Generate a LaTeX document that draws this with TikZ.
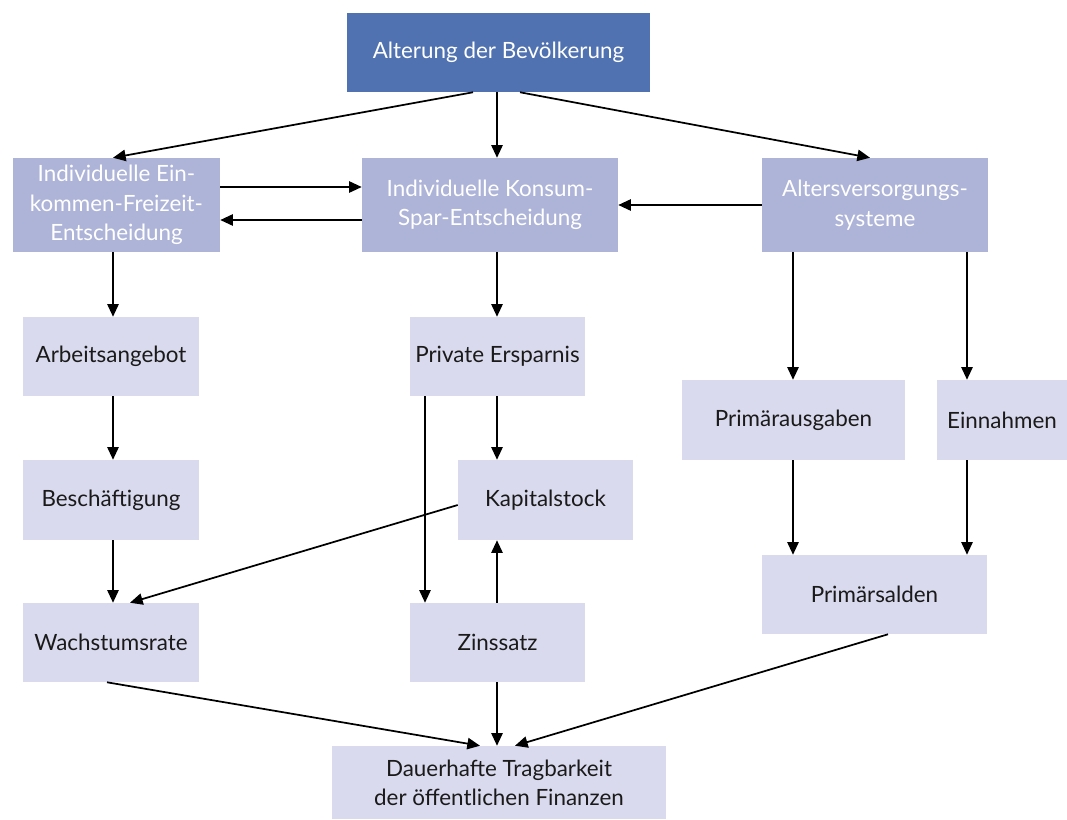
\documentclass[tikz,border=0pt]{standalone}
\usepackage{fontspec}
\setmainfont{Lato}
\usetikzlibrary{arrows.meta,calc}
\definecolor{darkbox}{HTML}{5072B0}
\definecolor{midbox}{HTML}{AEB4D8}
\definecolor{lightbox}{HTML}{D9DAEE}
\definecolor{txt}{HTML}{1A1A1A}
\begin{document}
\begin{tikzpicture}[x=0.75pt,y=-0.75pt,
  box/.style={rectangle, inner sep=0pt, align=center, anchor=center,
    font=\fontsize{16.8}{22}\selectfont},
  topbox/.style={box, fill=darkbox, text=white},
  midnode/.style={box, fill=midbox, text=white},
  lightnode/.style={box, fill=lightbox, text=txt},
  arr/.style={line width=1.3pt, -{Triangle[length=9.5pt,width=8.5pt]}}]
\useasboundingbox (0,0) rectangle (1067,819);
\node[topbox, minimum width=227.25pt, minimum height=59.25pt] (A) at (498.5,52.5) {Alterung der Bevölkerung};
\node[midnode, minimum width=155.25pt, minimum height=70.5pt] (B) at (116.5,205) {Individuelle Ein-\\kommen-Freizeit-\\Entscheidung};
\node[midnode, minimum width=192pt, minimum height=70.5pt] (C) at (490,205) {Individuelle Konsum-\\Spar-Entscheidung};
\node[midnode, minimum width=169.5pt, minimum height=70.5pt] (D) at (875,205) {Altersversorgungs-\\systeme};
\node[lightnode, minimum width=132pt, minimum height=59.25pt] (E) at (111,356.5) {Arbeitsangebot};
\node[lightnode, minimum width=131.25pt, minimum height=59.25pt] (F) at (497.5,356.5) {Private Ersparnis};
\node[lightnode, minimum width=167.25pt, minimum height=60pt] (G) at (793.5,420) {Primärausgaben};
\node[lightnode, minimum width=97.5pt, minimum height=60pt] (H) at (1002,420) {Einnahmen};
\node[lightnode, minimum width=132pt, minimum height=60pt] (I) at (111,500) {Beschäftigung};
\node[lightnode, minimum width=131.25pt, minimum height=60pt] (J) at (545.5,500) {Kapitalstock};
\node[lightnode, minimum width=132pt, minimum height=59.25pt] (K) at (111,642.5) {Wachstumsrate};
\node[lightnode, minimum width=131.25pt, minimum height=59.25pt] (L) at (497.5,642.5) {Zinssatz};
\node[lightnode, minimum width=168.75pt, minimum height=59.25pt] (M) at (874.5,594.5) {Primärsalden};
\node[lightnode, minimum width=250.5pt, minimum height=54.75pt] (N) at (499,782.5) {Dauerhafte Tragbarkeit\\der öffentlichen Finanzen};
% arrows
\draw[arr] ($(A.south)+(-25.5,0)$) -- ($(B.north)+(-3.5,0)$);
\draw[arr] ($(A.south)+(-1.5,0)$) coordinate (t1) -- (t1 |- C.north);
\draw[arr] ($(A.south)+(21.5,0)$) -- ($(D.north)+(-5,0)$);
\draw[arr] ($(B.east)+(0,-18)$) coordinate (t2) -- (t2 -| C.west);
\draw[arr] ($(C.west)+(0,15)$) coordinate (t3) -- (t3 -| B.east);
\draw[arr] (D.west) -- (C.east);
\draw[arr] ($(B.south)+(-3.5,0)$) coordinate (t4) -- (t4 |- E.north);
\draw[arr] ($(C.south)+(7,0)$) coordinate (t5) -- (t5 |- F.north);
\draw[arr] ($(D.south)+(-82,0)$) coordinate (t6) -- (t6 |- G.north);
\draw[arr] ($(D.south)+(92,0)$) coordinate (t7) -- (t7 |- H.north);
\draw[arr] ($(E.south)+(2,0)$) coordinate (t8) -- (t8 |- I.north);
\draw[arr] ($(F.south)+(-0.5,0)$) coordinate (t9) -- (t9 |- J.north);
\draw[arr] ($(F.south)+(-72.5,0)$) coordinate (t10) -- (t10 |- L.north);
\draw[arr] ($(I.south)+(2,0)$) coordinate (t11) -- (t11 |- K.north);
\draw[arr] ($(J.west)+(0,5)$) -- ($(K.north)+(19,0)$);
\draw[arr] ($(L.north)+(-0.5,0)$) coordinate (t12) -- (t12 |- J.south);
\draw[arr] ($(G.south)+(-0.5,0)$) coordinate (t13) -- (t13 |- M.north);
\draw[arr] ($(H.south)+(-35,0)$) coordinate (t14) -- (t14 |- M.north);
\draw[arr] ($(K.south)+(-4,0)$) -- ($(N.north)+(-19,0)$);
\draw[arr] ($(L.south)+(-0.5,0)$) coordinate (t15) -- (t15 |- N.north);
\draw[arr] ($(M.south)+(13.5,0)$) -- ($(N.north)+(16,0)$);
\end{tikzpicture}
\end{document}
